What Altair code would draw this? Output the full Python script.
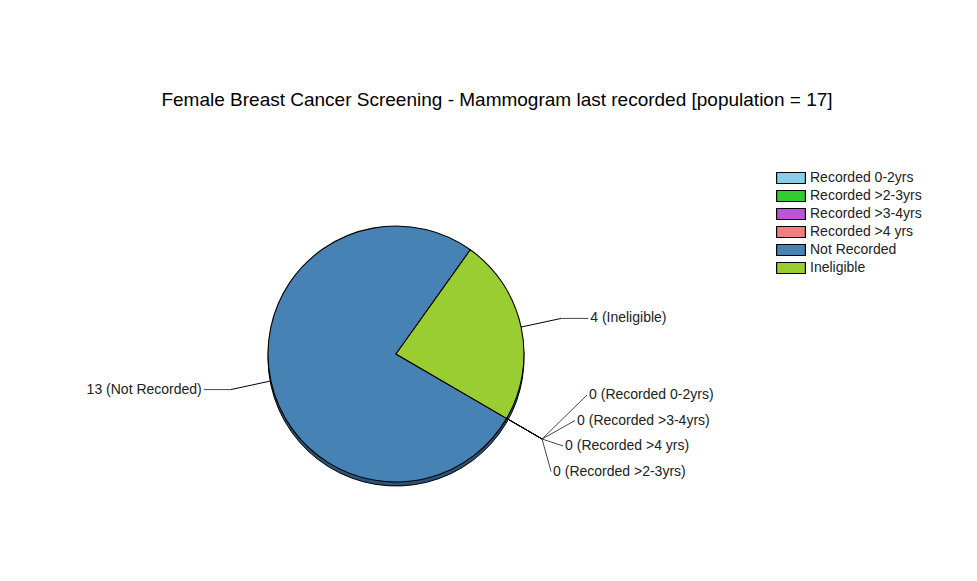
import math
import altair as alt
import pandas as pd

# ---- data ----
categories = ["Recorded 0-2yrs", "Recorded >2-3yrs", "Recorded  >3-4yrs",
              "Recorded >4 yrs", "Not Recorded", "Ineligible"]
counts = [0, 0, 0, 0, 13, 4]
# stacking order of the zero-count labels (top to bottom) as shown in the reference
zero_label_order = ["Recorded 0-2yrs", "Recorded  >3-4yrs", "Recorded >4 yrs", "Recorded >2-3yrs"]
colors = ["#87CEEB", "#32CD32", "#BA55D3", "#F08080", "#4682B4", "#9ACD32"]
title_text = "Female Breast Cancer Screening - Mammogram last recorded [population = 17]"

df = pd.DataFrame({
    "category": categories,
    "value": counts,
    "idx": list(range(len(categories))),
    "zrank": [zero_label_order.index(c) if c in zero_label_order else 0 for c in categories],
})

# ---- layout constants (pixels, view coordinates) ----
VX, VY = 8, 120            # page position of the view origin
CX, CY = 396 - VX, 354 - VY  # pie centre
R = 128                    # pie radius
R2 = 169                   # leader elbow radius
START = math.radians(120.2)
FONT = "Liberation Sans"

theta_scale = alt.Scale(range=[START, START + 2 * math.pi])
theta = alt.Theta("value:Q", stack=True, scale=theta_scale)
order = alt.Order("idx:Q", sort="ascending")

base = alt.Chart(df)

shadow = base.mark_arc(radius=R, stroke="black", strokeWidth=1, fill="#2b5378").encode(
    theta=theta, order=order,
    x=alt.value(CX), y=alt.value(CY + 4),
)

pie = base.mark_arc(radius=R, stroke="black", strokeWidth=1.1).encode(
    theta=theta, order=order,
    x=alt.value(CX), y=alt.value(CY),
    color=alt.Color(
        "category:N",
        scale=alt.Scale(domain=categories, range=colors),
        sort=categories,
        legend=alt.Legend(
            title=None, orient="none", legendX=773, legendY=48,
            symbolType="M-1.6,-0.61H1.6V0.61H-1.6Z", symbolSize=324,
            symbolStrokeColor="black", symbolStrokeWidth=1.2, symbolOpacity=1,
            labelFont=FONT, labelFontSize=14, labelColor="#222",
            labelOffset=9, rowPadding=0, padding=0,
        ),
    ),
)

geo = base.transform_joinaggregate(
    total="sum(value)"
).transform_window(
    cum="sum(value)", sort=[alt.SortField("idx", order="ascending")], frame=[None, 0]
).transform_calculate(
    a=f"{START} + 2*PI*(datum.cum - datum.value/2)/datum.total"
).transform_calculate(
    sa="sin(datum.a)", ca="cos(datum.a)"
).transform_calculate(
    ex=f"{CX} + {R}*datum.sa", ey=f"{CY} - {R}*datum.ca",
    bx=f"{CX} + {R2}*datum.sa", by=f"{CY} - {R2}*datum.ca",
).transform_calculate(
    ax="datum.value == 0 ? datum.bx + 45 - 12*datum.zrank : (datum.sa >= 0 ? datum.bx + 27 : datum.bx - 27)",
    ay="datum.value == 0 ? datum.by - 44 + 25.5*datum.zrank : datum.by",
    label="datum.value + ' (' + datum.category + ')'",
    right="datum.value == 0 || datum.sa >= 0",
)

leader1 = geo.mark_rule(color="black", strokeWidth=1).encode(
    x=alt.X("ex:Q", scale=None), y=alt.Y("ey:Q", scale=None),
    x2="bx:Q", y2="by:Q",
)
leader2 = geo.mark_rule(color="#333", strokeWidth=0.9).encode(
    x=alt.X("bx:Q", scale=None), y=alt.Y("by:Q", scale=None),
    x2="ax:Q", y2="ay:Q",
)
labels_right = geo.transform_filter("datum.right").mark_text(
    align="left", baseline="middle", dx=2, font=FONT, fontSize=14, color="#222"
).encode(x=alt.X("ax:Q", scale=None), y=alt.Y("ay:Q", scale=None), text="label:N")
labels_left = geo.transform_filter("!datum.right").mark_text(
    align="right", baseline="middle", dx=-2, font=FONT, fontSize=14, color="#222"
).encode(x=alt.X("ax:Q", scale=None), y=alt.Y("ay:Q", scale=None), text="label:N")

chart = alt.layer(shadow, pie, leader1, leader2, labels_right, labels_left).properties(
    width=940, height=440,
    background="white",
    padding={"top": 83, "left": 0, "right": 0, "bottom": 0},
    title=alt.Title(title_text, font=FONT, fontSize=19, fontWeight="normal",
                    color="black", anchor="middle", offset=10, dx=19),
).configure_view(stroke="transparent")

chart.save("out.html", embed_options={"renderer": "svg", "actions": False})
